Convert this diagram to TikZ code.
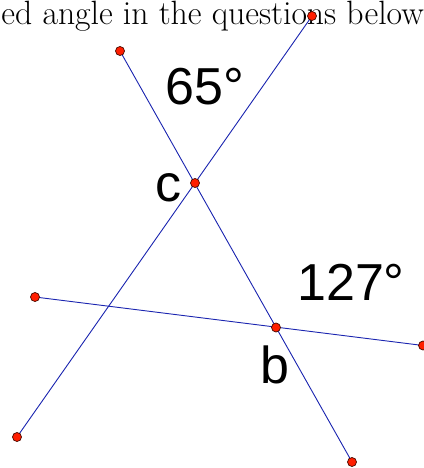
\documentclass[tikz,border=0pt]{standalone}
\usepackage{fontspec}
\setmainfont{Latin Modern Roman}
\newfontfamily\labelfont{Liberation Sans}
\definecolor{linblue}{RGB}{25,35,175}
\definecolor{dotred}{RGB}{255,30,0}
\definecolor{dotedge}{RGB}{70,10,0}
\begin{document}
\begin{tikzpicture}[x=1pt,y=-1pt,
  seg/.style={draw=linblue,line width=0.9pt},
  dot/.style={circle,fill=dotred,draw=dotedge,line width=0.7pt,minimum size=9pt,inner sep=0pt},
  biglabel/.style={font=\labelfont\fontsize{52}{62}\selectfont,inner sep=0pt,anchor=base west}]
\useasboundingbox (0,0) rectangle (423,468);
\node[font=\fontsize{33.7}{40}\selectfont,inner sep=0pt,anchor=base east] (title) at (424,25) {ed angle in the questions below};
\coordinate (p1) at (312,16);
\coordinate (p2) at (17,437);
\coordinate (q1) at (120,51);
\coordinate (q2) at (352,462);
\coordinate (r1) at (35,297);
\coordinate (r2) at (423,345.5);
\coordinate (c) at (195,183);
\coordinate (b) at (276,327.5);
\draw[seg] (p1) -- (p2);
\draw[seg] (q1) -- (q2);
\draw[seg] (r1) -- (r2);
\foreach \n in {p1,p2,q1,q2,r1,r2,c,b}
  \node[dot] (d\n) at (\n) {};
\node[biglabel] (a65) at (165,105) {65°};
\node[biglabel] (lc) at (155,201) {c};
\node[biglabel] (a127) at (297,300) {127°};
\node[biglabel] (lb) at (260,383) {b};
\end{tikzpicture}
\end{document}
